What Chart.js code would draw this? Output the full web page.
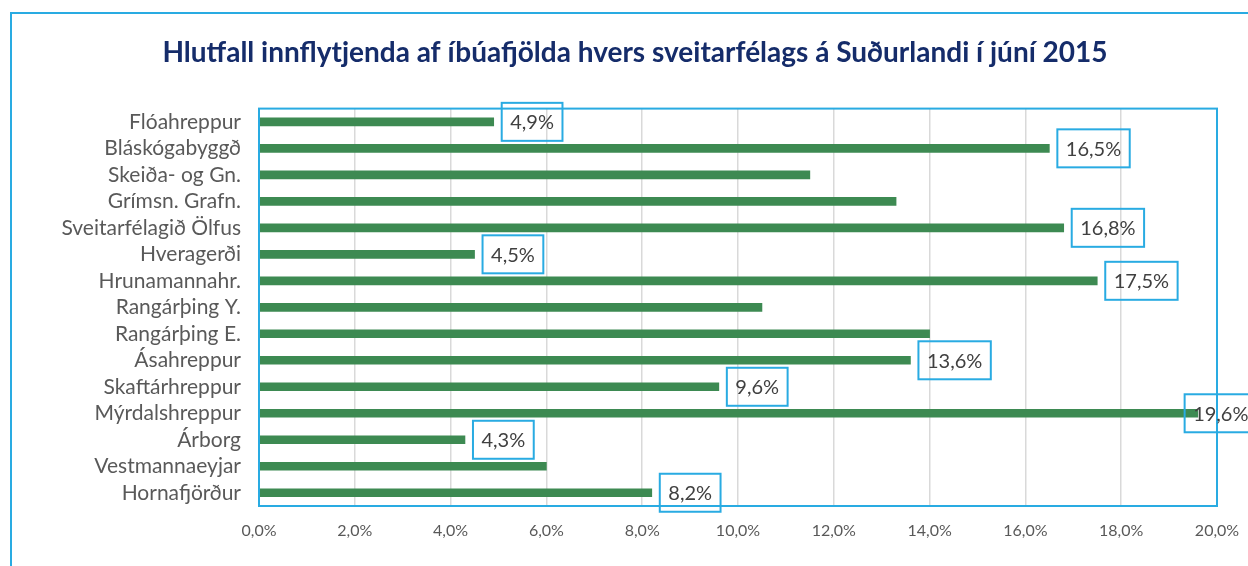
<!DOCTYPE html>
<html>
<head>
<meta charset="utf-8">
<script src="https://cdn.jsdelivr.net/npm/chart.js@4/dist/chart.umd.min.js"></script>
<style>
  html, body { margin: 0; padding: 0; background: #fff; overflow: hidden; }
  #frame {
    position: absolute; left: 10px; top: 12px;
    width: 1400px; height: 700px;
    border: 2px solid #29abe2;
  }
  #chart { position: absolute; left: 0; top: 0; }
</style>
</head>
<body>
<div id="frame"></div>
<canvas id="chart" width="1248" height="566"></canvas>
<script>
// sveitarfélög, frá efsta til neðsta
const municipalities = [
  'Flóahreppur', 'Bláskógabyggð', 'Skeiða- og Gn.', 'Grímsn. Grafn.',
  'Sveitarfélagið Ölfus', 'Hveragerði', 'Hrunamannahr.', 'Rangárþing Y.',
  'Rangárþing E.', 'Ásahreppur', 'Skaftárhreppur', 'Mýrdalshreppur',
  'Árborg', 'Vestmannaeyjar', 'Hornafjörður'
];
// hlutfall innflytjenda (%)
const shares = [4.9, 16.5, 11.5, 13.3, 16.8, 4.5, 17.5, 10.5, 14.0, 13.6, 9.6, 19.6, 4.3, 6.0, 8.2];
// hvaða súlur fá gildismerki
const showLabel = [true, true, false, false, true, true, true, false, false, true, true, true, true, false, true];
const xTicks = [0, 2, 4, 6, 8, 10, 12, 14, 16, 18, 20];

const BLUE = '#29abe2';
const fmt = v => v.toFixed(1).replace('.', ',') + '%';

// rammi utan um teiknisvæðið
const plotBorder = {
  id: 'plotBorder',
  afterDatasetsDraw(chart) {
    const { ctx, chartArea: a } = chart;
    ctx.save();
    ctx.strokeStyle = BLUE;
    ctx.lineWidth = 2;
    ctx.strokeRect(a.left, a.top, a.right - a.left, a.bottom - a.top);
    ctx.restore();
  }
};

// gildismerki í bláum kassa
const valueBoxes = {
  id: 'valueBoxes',
  afterDatasetsDraw(chart) {
    const { ctx, chartArea } = chart;
    const meta = chart.getDatasetMeta(0);
    ctx.save();
    ctx.font = '20px Lato';
    ctx.textAlign = 'center';
    ctx.textBaseline = 'middle';
    meta.data.forEach((bar, i) => {
      if (!showLabel[i]) return;
      const text = fmt(shares[i]);
      const w = ctx.measureText(text).width + 17;
      const h = 38;
      let x = bar.x + 8;
      const maxRight = chartArea.right + 40;
      if (x + w > maxRight) x = maxRight - w; // ýtt inn eins og Excel gerir
      ctx.strokeStyle = BLUE;
      ctx.lineWidth = 2;
      ctx.strokeRect(x, bar.y - h / 2, w, h);
      ctx.fillStyle = '#404040';
      ctx.fillText(text, x + w / 2, bar.y + 1);
    });
    ctx.restore();
  }
};

new Chart(document.getElementById('chart').getContext('2d'), {
  type: 'bar',
  data: {
    labels: municipalities,
    datasets: [{
      data: shares,
      backgroundColor: '#3d8a52',
      barThickness: 8,
      borderWidth: 0
    }]
  },
  options: {
    indexAxis: 'y',
    responsive: false,
    animation: false,
    layout: { padding: { left: 53, right: 31, top: 0, bottom: 0 } },
    plugins: {
      legend: { display: false },
      tooltip: { enabled: false },
      title: {
        display: true,
        text: 'Hlutfall innflytjenda af íbúafjölda hvers sveitarfélags á Suðurlandi í júní 2015',
        color: '#152c6a',
        font: { family: 'Lato', size: 28, weight: 'bold', lineHeight: 1.2 },
        padding: { top: 36, bottom: 39 }
      }
    },
    scales: {
      x: {
        min: 0,
        max: 20,
        afterBuildTicks: s => { s.ticks = xTicks.map(v => ({ value: v })); },
        afterFit: s => { s.height = 60; s.paddingLeft = 0; s.paddingRight = 0; },
        grid: { color: '#d9d9d9', lineWidth: 1.5, drawTicks: false },
        border: { display: false },
        ticks: {
          padding: 15,
          color: '#595959',
          font: { family: 'Lato', size: 16 },
          callback: v => fmt(v)
        }
      },
      y: {
        afterFit: s => { s.width = 206; s.paddingTop = 0; s.paddingBottom = 0; },
        grid: { display: false, drawTicks: false },
        border: { display: false },
        ticks: {
          autoSkip: false,
          padding: 18,
          color: '#595959',
          font: { family: 'Lato', size: 21 }
        }
      }
    }
  },
  plugins: [plotBorder, valueBoxes]
});
</script>
</body>
</html>
